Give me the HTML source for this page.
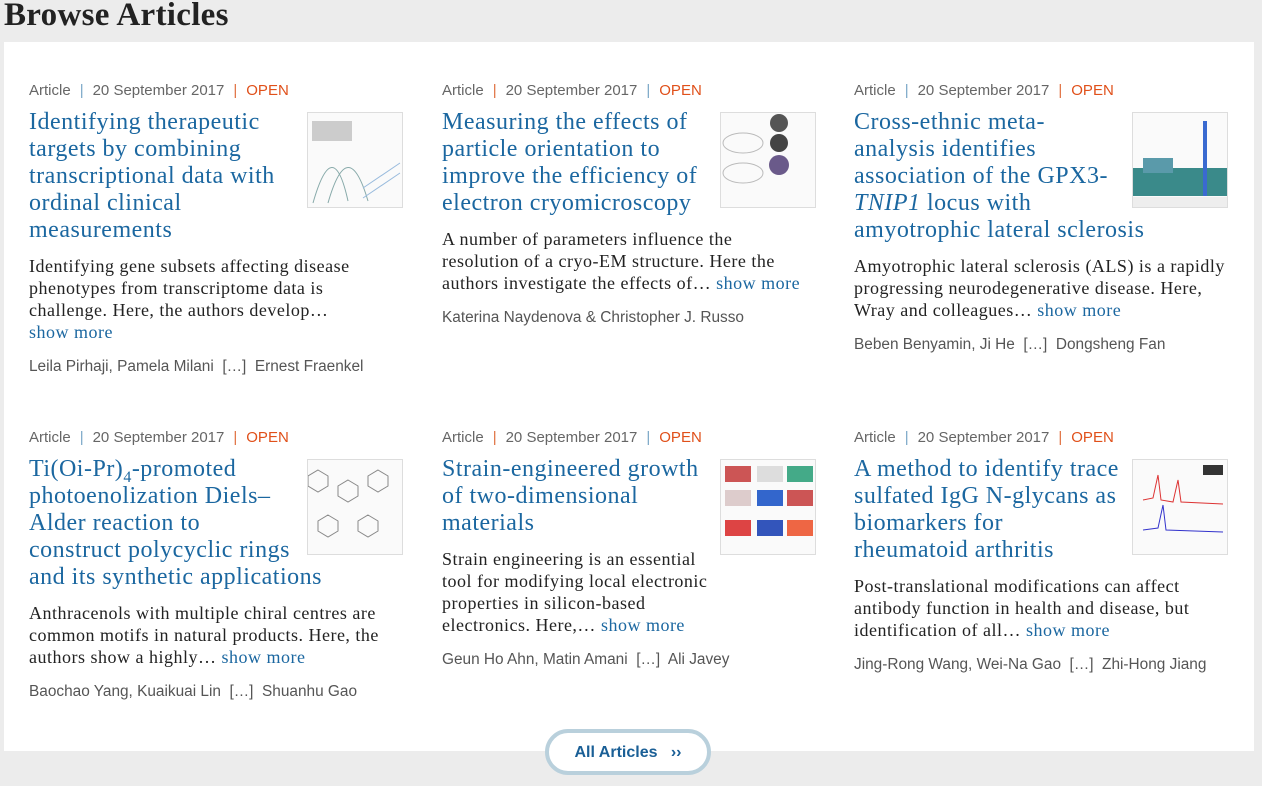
<!DOCTYPE html>
<html><head><meta charset="utf-8"><style>
body{margin:0;width:1262px;height:786px;background:#ececec;position:relative;overflow:hidden;font-family:"Liberation Sans",sans-serif}
h1{position:absolute;left:4px;top:-3px;margin:0;font:bold 33px "Liberation Serif",serif;color:#222;letter-spacing:0.3px}
.panel{position:absolute;left:4px;top:42px;width:1250px;height:709px;background:#fff}
.card{position:absolute;width:380px}
.meta{height:20px;line-height:20px;font-size:15px;color:#666;white-space:nowrap}
.meta .p1{color:#7aa7c7;margin:0 9px}.meta .p2{color:#e07040;margin:0 9px}.meta .open{color:#e0501a}
.title{margin-top:7.5px;font:24px/27px "Liberation Serif",serif;letter-spacing:0.5px;color:#1b67a0;white-space:nowrap}
.blurb{margin-top:11.5px;font:18px/22px "Liberation Serif",serif;letter-spacing:0.5px;color:#222;white-space:nowrap}
.blurb a,.title a{color:#1b67a0;text-decoration:none}
.auth{margin-top:14px;height:20px;line-height:20px;font-size:15.4px;color:#555;white-space:nowrap}
.thumb{position:absolute;left:278px;top:31px;width:94px;height:94px;border:1px solid #ddd;background:#fafafa;overflow:hidden}
.btn{position:absolute;left:545px;top:729px;width:158px;height:38px;border:4px solid #b9d0dc;border-radius:23px;background:#fff;text-align:center;line-height:40px;font-weight:bold;font-size:16px;color:#1a5f96}
</style></head><body>
<h1>Browse Articles</h1>
<div class="panel"></div>

<div class="card" style="left:29px;top:81px">
<div class="meta">Article<span class="p1">|</span>20 September 2017<span class="p2">|</span><span class="open">OPEN</span></div>
<div class="title">Identifying therapeutic<br>targets by combining<br>transcriptional data with<br>ordinal clinical<br>measurements</div>
<div class="blurb">Identifying gene subsets affecting disease<br>phenotypes from transcriptome data is<br>challenge. Here, the authors develop…<br><a>show more</a></div>
<div class="auth">Leila Pirhaji, Pamela Milani &nbsp;[…]&nbsp; Ernest Fraenkel</div>
<div class="thumb"><svg width="94" height="94"><rect x="4" y="8" width="40" height="20" fill="#ccc"/><path d="M5 90 Q25 20 40 88 M20 90 Q40 20 60 88" stroke="#8aa" fill="none"/><path d="M55 85 L92 60 M55 75 L92 50" stroke="#9bd" /></svg></div>
</div>

<div class="card" style="left:442px;top:81px">
<div class="meta">Article<span class="p2">|</span>20 September 2017<span class="p1">|</span><span class="open">OPEN</span></div>
<div class="title">Measuring the effects of<br>particle orientation to<br>improve the efficiency of<br>electron cryomicroscopy</div>
<div class="blurb">A number of parameters influence the<br>resolution of a cryo-EM structure. Here the<br>authors investigate the effects of… <a>show more</a></div>
<div class="auth">Katerina Naydenova &amp; Christopher J. Russo</div>
<div class="thumb"><svg width="94" height="94"><circle cx="58" cy="10" r="9" fill="#555"/><circle cx="58" cy="30" r="9" fill="#444"/><circle cx="58" cy="52" r="10" fill="#6a5a8a"/><ellipse cx="22" cy="30" rx="20" ry="10" fill="none" stroke="#bbb"/><ellipse cx="22" cy="60" rx="20" ry="10" fill="none" stroke="#bbb"/></svg></div>
</div>

<div class="card" style="left:854px;top:81px">
<div class="meta">Article<span class="p1">|</span>20 September 2017<span class="p2">|</span><span class="open">OPEN</span></div>
<div class="title">Cross-ethnic meta-<br>analysis identifies<br>association of the GPX3-<br><i>TNIP1</i> locus with<br>amyotrophic lateral sclerosis</div>
<div class="blurb">Amyotrophic lateral sclerosis (ALS) is a rapidly<br>progressing neurodegenerative disease. Here,<br>Wray and colleagues… <a>show more</a></div>
<div class="auth">Beben Benyamin, Ji He &nbsp;[…]&nbsp; Dongsheng Fan</div>
<div class="thumb"><svg width="94" height="94"><rect x="0" y="55" width="94" height="28" fill="#3a8a8a"/><rect x="10" y="45" width="30" height="15" fill="#5a9aaa"/><rect x="70" y="8" width="4" height="75" fill="#3a6ad0"/><rect x="0" y="84" width="94" height="10" fill="#eee"/></svg></div>
</div>

<div class="card" style="left:29px;top:428px">
<div class="meta">Article<span class="p1">|</span>20 September 2017<span class="p2">|</span><span class="open">OPEN</span></div>
<div class="title">Ti(Oi-Pr)<sub style="font-size:16px;line-height:0">4</sub>-promoted<br>photoenolization Diels–<br>Alder reaction to<br>construct polycyclic rings<br>and its synthetic applications</div>
<div class="blurb">Anthracenols with multiple chiral centres are<br>common motifs in natural products. Here, the<br>authors show a highly… <a>show more</a></div>
<div class="auth">Baochao Yang, Kuaikuai Lin &nbsp;[…]&nbsp; Shuanhu Gao</div>
<div class="thumb"><svg width="94" height="94" stroke="#888" fill="none"><path d="M10 10 l10 6 v10 l-10 6 l-10 -6 v-10z M40 20 l10 6 v10 l-10 6 l-10-6v-10z M70 10 l10 6 v10 l-10 6 l-10-6v-10z M20 55 l10 6 v10 l-10 6 l-10-6v-10z M60 55 l10 6 v10 l-10 6 l-10-6v-10z"/></svg></div>
</div>

<div class="card" style="left:442px;top:428px">
<div class="meta">Article<span class="p2">|</span>20 September 2017<span class="p1">|</span><span class="open">OPEN</span></div>
<div class="title">Strain-engineered growth<br>of two-dimensional<br>materials</div>
<div class="blurb">Strain engineering is an essential<br>tool for modifying local electronic<br>properties in silicon-based<br>electronics. Here,… <a>show more</a></div>
<div class="auth">Geun Ho Ahn, Matin Amani &nbsp;[…]&nbsp; Ali Javey</div>
<div class="thumb"><svg width="94" height="94"><rect x="4" y="6" width="26" height="16" fill="#c55"/><rect x="36" y="6" width="26" height="16" fill="#ddd"/><rect x="66" y="6" width="26" height="16" fill="#4a8"/><rect x="4" y="30" width="26" height="16" fill="#dcc"/><rect x="36" y="30" width="26" height="16" fill="#36c"/><rect x="66" y="30" width="26" height="16" fill="#c55"/><rect x="4" y="60" width="26" height="16" fill="#d44"/><rect x="36" y="60" width="26" height="16" fill="#35b"/><rect x="66" y="60" width="26" height="16" fill="#e64"/></svg></div>
</div>

<div class="card" style="left:854px;top:428px">
<div class="meta">Article<span class="p1">|</span>20 September 2017<span class="p2">|</span><span class="open">OPEN</span></div>
<div class="title">A method to identify trace<br>sulfated IgG N-glycans as<br>biomarkers for<br>rheumatoid arthritis</div>
<div class="blurb">Post-translational modifications can affect<br>antibody function in health and disease, but<br>identification of all… <a>show more</a></div>
<div class="auth">Jing-Rong Wang, Wei-Na Gao &nbsp;[…]&nbsp; Zhi-Hong Jiang</div>
<div class="thumb"><svg width="94" height="94" fill="none"><path d="M10 40 L20 38 L25 15 L28 40 L40 42 L45 20 L48 42 L90 44" stroke="#d33"/><path d="M10 70 L25 68 L30 45 L33 70 L90 72" stroke="#33c"/><rect x="70" y="5" width="20" height="10" fill="#333"/></svg></div>
</div>

<div class="btn">All Articles&nbsp;&nbsp; ››</div>
</body></html>
